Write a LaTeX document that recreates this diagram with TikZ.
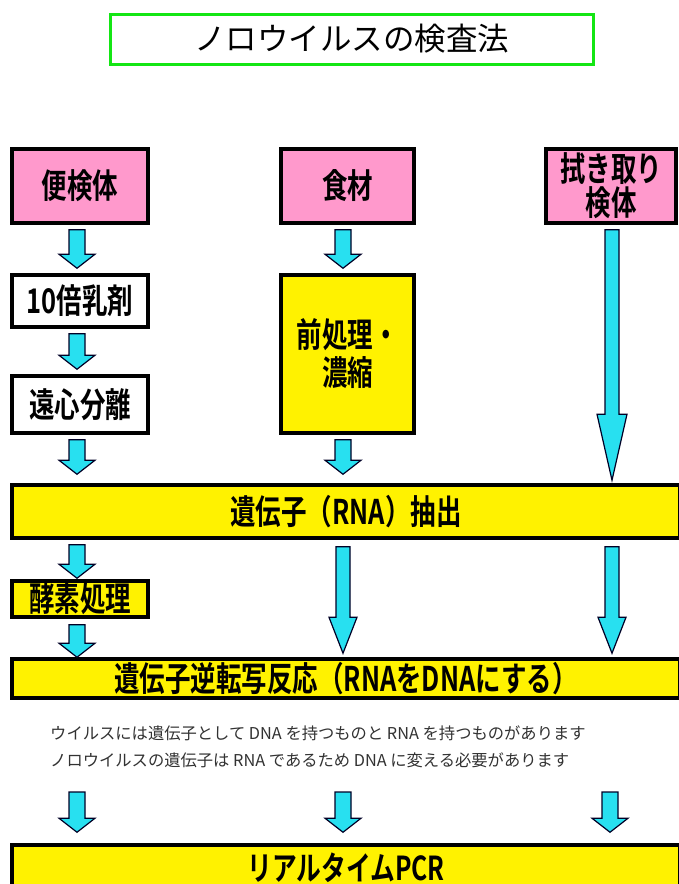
\documentclass[tikz,border=0pt]{standalone}
\usepackage{fontspec}
\setmainfont{Noto Sans CJK JP}
\newfontfamily\jpb[FakeStretch=0.75,BoldFont=* Bold]{Noto Sans CJK JP}
\usetikzlibrary{calc}
\definecolor{pinkc}{RGB}{255,153,204}
\definecolor{cyanc}{RGB}{40,224,240}
\definecolor{greenc}{RGB}{20,230,20}
\definecolor{txtgray}{RGB}{50,50,50}
\newcommand\barrow[5]{\draw[arrowsty] let \p1=#1, \p2=#2 in
  (\x1-#3,\y1) -- (\x1+#3,\y1) -- (\x1+#3,\y2+#5) -- (\x1+#4,\y2+#5) --
  (\x1,\y2) -- (\x1-#4,\y2+#5) -- (\x1-#3,\y2+#5) -- cycle;}
\begin{document}
\begin{tikzpicture}[x=1pt,y=-1pt,
  box/.style={draw=black,line width=3.5pt,inner sep=0pt,align=center,
    font=\jpb\bfseries\fontsize{34}{37}\selectfont},
  pinkbox/.style={box,fill=pinkc},
  whitebox/.style={box,fill=white},
  yelbox/.style={box,fill=yellow},
  arrowsty/.style={fill=cyanc,draw=black!85!blue,line width=1.2pt,line join=miter},
  small/.style={anchor=west,inner sep=0pt,text=txtgray,font=\fontsize{16.3}{19}\selectfont}]
\useasboundingbox (0,0) rectangle (678,884);
% title
\node[draw=greenc,line width=3pt,minimum width=483,minimum height=50,inner sep=0pt,
  font=\fontsize{31.5}{34}\selectfont] (title) at (351.5,39) {\raisebox{-3pt}{ノロウイルスの検査法}};
% columns
\coordinate (cL) at (77,0);
\coordinate (cM) at (343,0);
\coordinate (cR) at (612,0);
% top boxes
\node[pinkbox,minimum width=136,minimum height=74] (p1) at (80,186) {便検体};
\node[pinkbox,minimum width=133,minimum height=74] (p2) at (347.5,186) {食材};
\node[pinkbox,minimum width=130,minimum height=74,font=\jpb\bfseries\fontsize{34}{34}\selectfont] (p3) at (611,186) {拭き取り\\検体};
\node[whitebox,minimum width=136,minimum height=52] (b1) at (80,301) {10倍乳剤};
\node[whitebox,minimum width=136,minimum height=57] (b2) at (80,404.5) {遠心分離};
\node[yelbox,minimum width=133,minimum height=158,font=\jpb\bfseries\fontsize{34}{38}\selectfont] (m1) at (347.5,354) {前処理・\\濃縮};
\node[yelbox,minimum width=668,minimum height=53] (bar1) at (346,511.5) {遺伝子（RNA）抽出};
\node[yelbox,minimum width=136,minimum height=36] (e1) at (80,599) {酵素処理};
\node[yelbox,minimum width=668,minimum height=39] (bar2) at (346,678.5) {遺伝子逆転写反応（RNAをDNAにする）};
\node[small] (t1) at (50,733) {ウイルスには遺伝子として DNA を持つものと RNA を持つものがあります};
\node[small] (t2) at (50,760) {ノロウイルスの遺伝子は RNA であるため DNA に変える必要があります};
\node[yelbox,minimum width=668,minimum height=50,font=\jpb\bfseries\fontsize{33}{36}\selectfont] (bar3) at (346,870) {\raisebox{7pt}{リアルタイムPCR}};
% left column arrows
\barrow{($(cL|-p1.south)+(0,5)$)}{($(cL|-b1.north)+(0,-5)$)}{8}{18}{14}
\barrow{($(cL|-b1.south)+(0,5)$)}{($(cL|-b2.north)+(0,-5)$)}{8}{18}{14}
\barrow{($(cL|-b2.south)+(0,5)$)}{($(cL|-bar1.north)+(0,-9)$)}{8}{18}{14}
\barrow{($(cL|-bar1.south)+(0,5)$)}{($(cL|-e1.north)+(0,-1)$)}{8}{18}{14}
\barrow{($(cL|-e1.south)+(0,6)$)}{($(cL|-bar2.north)+(0,0)$)}{8}{18}{14}
% middle column arrows
\barrow{($(cM|-p2.south)+(0,5)$)}{($(cM|-m1.north)+(0,-5)$)}{8}{18}{14}
\barrow{($(cM|-m1.south)+(0,5)$)}{($(cM|-bar1.north)+(0,-9)$)}{8}{18}{14}
\barrow{($(cM|-bar1.south)+(0,7)$)}{($(cM|-bar2.north)+(0,-4)$)}{7}{14}{36}
% right column arrows
\barrow{($(cR|-p3.south)+(0,5)$)}{($(cR|-bar1.north)+(0,-3)$)}{7}{15}{66}
\barrow{($(cR|-bar1.south)+(0,7)$)}{($(cR|-bar2.north)+(0,-4)$)}{7}{14}{36}
% bottom arrows
\coordinate (s1) at (77,792);
\coordinate (s2) at (343,792);
\coordinate (s3) at (610,792);
\barrow{(s1)}{($(s1|-bar3.north)+(0,-11)$)}{8}{18}{14}
\barrow{(s2)}{($(s2|-bar3.north)+(0,-11)$)}{8}{18}{14}
\barrow{(s3)}{($(s3|-bar3.north)+(0,-11)$)}{8}{18}{14}
\end{tikzpicture}
\end{document}
